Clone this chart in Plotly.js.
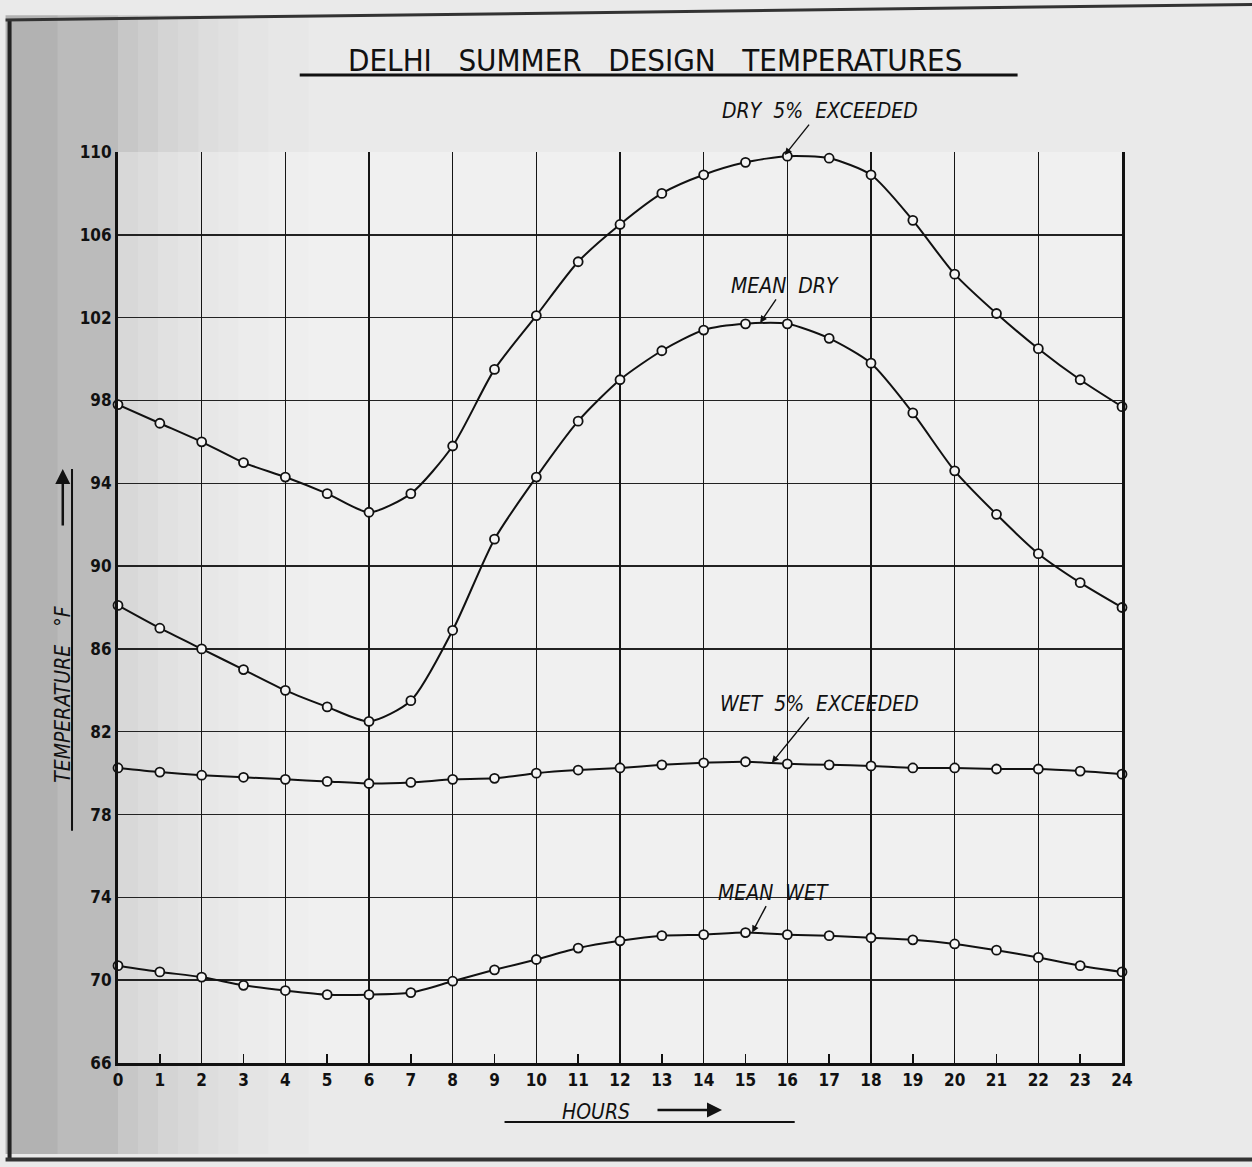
<!DOCTYPE html>
<html>
<head>
<meta charset="utf-8">
<script src="https://cdn.plot.ly/plotly-3.0.1.min.js"></script>
<style>
  html, body { margin: 0; padding: 0; background: #e9e9e9; }
  #chart { width: 1252px; height: 1167px; }
</style>
</head>
<body>
<div id="chart"></div>
<script>
// ---- Data ----
const hours = [0,1,2,3,4,5,6,7,8,9,10,11,12,13,14,15,16,17,18,19,20,21,22,23,24];
const dry5Exceeded = [97.8,96.9,96.0,95.0,94.3,93.5,92.6,93.5,95.8,99.5,102.1,104.7,106.5,108.0,108.9,109.5,109.8,109.7,108.9,106.7,104.1,102.2,100.5,99.0,97.7];
const meanDry = [88.1,87.0,86.0,85.0,84.0,83.2,82.5,83.5,86.9,91.3,94.3,97.0,99.0,100.4,101.4,101.7,101.7,101.0,99.8,97.4,94.6,92.5,90.6,89.2,88.0];
const wet5Exceeded = [80.25,80.05,79.9,79.8,79.7,79.6,79.5,79.55,79.7,79.75,80.0,80.15,80.25,80.4,80.5,80.55,80.45,80.4,80.35,80.25,80.25,80.2,80.2,80.1,79.95];
const meanWet = [70.7,70.4,70.15,69.75,69.5,69.3,69.3,69.4,69.95,70.5,71.0,71.55,71.9,72.15,72.2,72.3,72.2,72.15,72.05,71.95,71.75,71.45,71.1,70.7,70.4];
const yTicks = [66,70,74,78,82,86,90,94,98,102,106,110];
const yTickLabels = ['66','70','74','78','82','86','90','94','98','102','106','110'];
const xTickLabels = hours.map(String);
const gridHours = hours.filter(h => h % 2 === 0);

const seriesNames = ['DRY 5% EXCEEDED','MEAN DRY','WET 5% EXCEEDED','MEAN WET'];
const seriesLabels = ['DRY&nbsp; 5%&nbsp; EXCEEDED','MEAN&nbsp; DRY','WET&nbsp; 5%&nbsp; EXCEEDED','MEAN&nbsp; WET'];
const seriesValues = [dry5Exceeded, meanDry, wet5Exceeded, meanWet];

const lblFont = "'DejaVu Sans Condensed', 'Liberation Sans Narrow', 'DejaVu Sans', sans-serif";

const traces = seriesValues.map((vals, i) => ({
  type: 'scatter',
  mode: 'lines+markers',
  name: seriesNames[i],
  x: hours,
  y: vals,
  line: { color: '#111', width: 2, shape: 'spline', smoothing: 0.7 },
  marker: { symbol: 'circle', size: 9, color: '#f4f4f4', line: { color: '#111', width: 1.8 } },
  cliponaxis: false,
  hoverinfo: 'x+y+name'
}));

// overlay axis used only for the vertical grid at even hours
traces.push({
  type: 'scatter', x: [0, 24], y: [66, 66], xaxis: 'x2', yaxis: 'y',
  mode: 'lines', line: { width: 0 }, hoverinfo: 'skip', showlegend: false
});

const italicFont = { family: lblFont, size: 21, color: '#111', style: 'italic' };

// soft photographic shading on the left (decoration only)
const shadeBands = [
  [-0.112, -0.06, 0.24], [-0.06, 0, 0.20], [0, 0.02, 0.15], [0.02, 0.04, 0.12],
  [0.04, 0.06, 0.095], [0.06, 0.08, 0.075], [0.08, 0.10, 0.055], [0.10, 0.12, 0.04],
  [0.12, 0.15, 0.025], [0.15, 0.19, 0.012]
];
const shadeShapes = shadeBands.map(b => ({
  type: 'rect', xref: 'paper', yref: 'paper', layer: 'below',
  x0: b[0], x1: b[1], y0: -0.1, y1: 1.15, line: { width: 0 }, fillcolor: 'rgba(0,0,0,' + b[2] + ')'
}));

const layout = {
  width: 1252,
  height: 1167,
  margin: { l: 118, r: 130, t: 152, b: 104 },
  paper_bgcolor: '#eaeaea',
  plot_bgcolor: 'rgba(0,0,0,0)',
  showlegend: false,
  font: { family: lblFont, color: '#111' },
  xaxis: {
    range: [0, 24],
    tickvals: hours,
    ticktext: xTickLabels,
    ticks: 'inside',
    ticklen: 9,
    tickwidth: 1.5,
    tickcolor: '#111',
    showgrid: false,
    zeroline: false,
    showline: true,
    linecolor: '#111',
    linewidth: 3,
    tickfont: { family: lblFont, size: 17, color: '#111', weight: 'bold' },
    fixedrange: true
  },
  xaxis2: {
    range: [0, 24],
    overlaying: 'x',
    anchor: 'y',
    side: 'bottom',
    tickvals: gridHours,
    showticklabels: false,
    ticks: '',
    showgrid: true,
    gridcolor: '#151515',
    gridwidth: 1.6,
    zeroline: false,
    showline: false,
    fixedrange: true
  },
  yaxis: {
    range: [66, 110],
    tickvals: yTicks,
    ticktext: yTickLabels,
    ticks: '',
    showgrid: true,
    gridcolor: '#222',
    gridwidth: 1.4,
    zeroline: false,
    showline: true,
    linecolor: '#111',
    linewidth: 3,
    mirror: true,
    tickfont: { family: lblFont, size: 17, color: '#111', weight: 'bold' },
    fixedrange: true
  },
  annotations: [
    { xref: 'paper', yref: 'paper', x: 0.535, y: 1.101, xanchor: 'center', yanchor: 'middle',
      text: 'DELHI&nbsp;&nbsp; SUMMER&nbsp;&nbsp; DESIGN&nbsp;&nbsp; TEMPERATURES',
      showarrow: false, font: { family: lblFont, size: 31, color: '#111' } },
    // y axis title
    { xref: 'paper', yref: 'paper', x: -0.055, y: 0.405, xanchor: 'center', yanchor: 'middle', textangle: -90,
      text: 'TEMPERATURE&nbsp;&nbsp; °F', showarrow: false, font: italicFont },
    { xref: 'paper', yref: 'paper', x: -0.055, y: 0.652, axref: 'pixel', ayref: 'pixel', ax: 0, ay: 58,
      text: '', showarrow: true, arrowhead: 2, arrowsize: 1.2, arrowwidth: 2.5, arrowcolor: '#111' },
    // x axis title
    { xref: 'paper', yref: 'paper', x: 0.476, y: -0.0538, xanchor: 'center', yanchor: 'middle',
      text: 'HOURS', showarrow: false, font: italicFont },
    { xref: 'paper', yref: 'paper', x: 0.6016, y: -0.0515, ax: -66, ay: 0,
      text: '', showarrow: true, arrowhead: 2, arrowsize: 1.2, arrowwidth: 2.5, arrowcolor: '#111' },
    // series labels
    { x: 15.94, y: 109.85, ax: 35, ay: -44, text: seriesLabels[0], showarrow: true,
      arrowhead: 2, arrowsize: 1, arrowwidth: 1.4, arrowcolor: '#111', font: italicFont },
    { x: 15.35, y: 101.75, ax: 25, ay: -37, text: seriesLabels[1], showarrow: true,
      arrowhead: 2, arrowsize: 1, arrowwidth: 1.4, arrowcolor: '#111', font: italicFont },
    { x: 15.63, y: 80.5, ax: 48, ay: -59, text: seriesLabels[2], showarrow: true,
      arrowhead: 2, arrowsize: 1, arrowwidth: 1.4, arrowcolor: '#111', font: italicFont },
    { x: 15.16, y: 72.3, ax: 21, ay: -40, text: seriesLabels[3], showarrow: true,
      arrowhead: 2, arrowsize: 1, arrowwidth: 1.4, arrowcolor: '#111', font: italicFont }
  ],
  shapes: shadeShapes.concat([
    { type: 'rect', xref: 'paper', yref: 'paper', layer: 'below', x0: 0, x1: 1.0, y0: 0, y1: 1.0,
      line: { width: 0 }, fillcolor: 'rgba(255,255,255,0.3)' },
    // title underline
    { type: 'line', xref: 'paper', yref: 'paper', x0: 0.181, x1: 0.896, y0: 1.0845, y1: 1.0845,
      line: { color: '#111', width: 3 } },
    // y title underline
    { type: 'line', xref: 'paper', yref: 'paper', x0: -0.0458, x1: -0.0458, y0: 0.255, y1: 0.652,
      line: { color: '#111', width: 2 } },
    // hours underline
    { type: 'line', xref: 'paper', yref: 'paper', x0: 0.385, x1: 0.674, y0: -0.0648, y1: -0.0648,
      line: { color: '#111', width: 2 } },
    // photo frame edges
    { type: 'line', xref: 'paper', yref: 'paper', x0: -0.108, x1: -0.108, y0: -0.105, y1: 1.145,
      line: { color: '#222', width: 4 } },
    { type: 'line', xref: 'paper', yref: 'paper', x0: -0.112, x1: 1.13, y0: -0.106, y1: -0.106,
      line: { color: '#333', width: 4 } },
    { type: 'line', xref: 'paper', yref: 'paper', x0: -0.112, x1: 1.13, y0: 1.145, y1: 1.162,
      line: { color: '#333', width: 3 } }
  ])
};

Plotly.newPlot('chart', traces, layout, { displayModeBar: false, staticPlot: true });
</script>
</body>
</html>
